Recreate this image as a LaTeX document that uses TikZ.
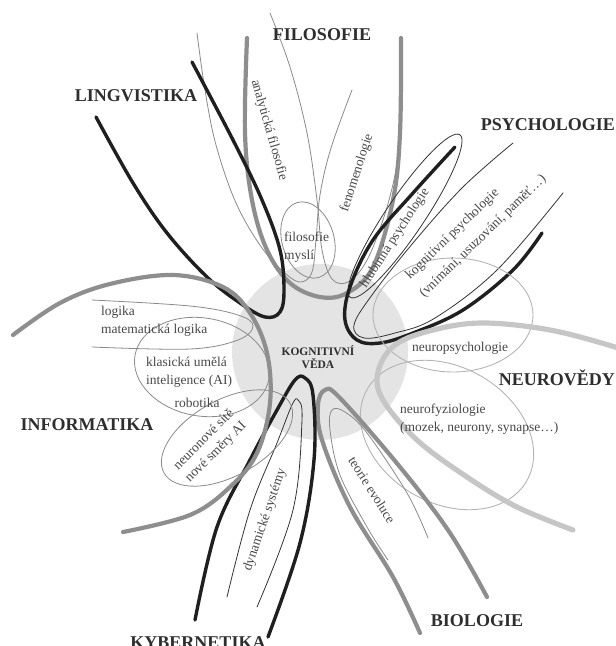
\documentclass[tikz,border=0pt]{standalone}
\usepackage{fontspec}
\setmainfont{Liberation Serif}
\definecolor{ink}{HTML}{2E2E2E}
\definecolor{subink}{HTML}{474747}
\definecolor{midgray}{HTML}{8E8E8E}
\definecolor{lightgray}{HTML}{C6C6C6}
\definecolor{thingray}{HTML}{8A8A8A}
\definecolor{thinlight}{HTML}{B4B4B4}
\definecolor{discfill}{HTML}{E4E4E4}
\tikzset{
  thickblack/.style={draw=black!88, line width=3.4pt, line cap=round},
  thickgray/.style={draw=midgray, line width=4.2pt, line cap=round},
  thicklight/.style={draw=lightgray, line width=5.2pt, line cap=round},
  thinblack/.style={draw=black!80, line width=0.8pt, line cap=round},
  thingrayline/.style={draw=thingray, line width=0.8pt, line cap=round},
  thinlightline/.style={draw=thinlight, line width=0.9pt, line cap=round},
  bigfield/.style={font=\fontsize{18}{20}\selectfont\bfseries, text=ink, inner sep=0pt},
  sublabel/.style={font=\fontsize{13.5}{17}\selectfont, text=subink, inner sep=0pt},
  centerlabel/.style={font=\fontsize{11.5}{13.5}\selectfont\bfseries, text=ink, inner sep=0pt, align=center},
  smoothline/.style={smooth, tension=0.6}
}
\begin{document}
\begin{tikzpicture}[x=1pt,y=-1pt]
\useasboundingbox (0,0) rectangle (616,646);
\clip (0,0) rectangle (616,646);

% central disc
\fill[discfill] (320,352) circle [radius=88];

% ---------- FILOSOFIE ----------
\draw[thickgray] plot[smoothline] coordinates {(247,38) (245,133) (252,200) (267,250) (290,283) (320,297) (347,293) (373,267) (393,200) (400,133) (401,38)};
\draw[thingrayline] plot[smoothline] coordinates {(197,33) (205,90) (216,145) (236,203) (262,248) (286,274) (301,282) (312,272) (316,240) (320,195) (331,148) (352,90)};
\draw[thingrayline] plot[smoothline] coordinates {(270,13) (290,67) (307,133) (317,200) (322,250) (332,279) (348,282) (366,262) (383,220) (395,175) (399,140)};
\draw[thingrayline, rotate around={16:(308,240)}] (308,240) ellipse [x radius=26, y radius=39];

% ---------- LINGVISTIKA ----------
\draw[thickblack] plot[smoothline] coordinates {(96,117) (133,183) (167,233) (207,277) (240,303) (265,317) (280,312) (284,290) (280,250) (262,200) (233,140) (192,62)};

% ---------- PSYCHOLOGIE ----------
\draw[thinblack, rotate around={56:(405,216)}] (405,216) ellipse [x radius=98, y radius=19];
\draw[thinblack] plot[smoothline] coordinates {(513,143) (463,187) (413,243) (372,295) (354,325) (364,338) (395,333) (435,318) (497,270) (563,193)};
\draw[thickblack] plot[smoothline] coordinates {(455,147) (413,193) (373,240) (350,287) (345,320) (357,340) (380,343) (413,333) (463,310) (513,270) (542,233)};

% ---------- NEUROVEDY ----------
\draw[thinlightline] (453,315) ellipse [x radius=80, y radius=57];
\draw[thinlightline, rotate around={-30:(447,435)}] (447,435) ellipse [x radius=92, y radius=68];
\draw[thicklight] plot[smoothline] coordinates {(630,354) (615,347) (550,330) (483,323) (433,330) (395,345) (378,372) (383,400) (417,440) (467,477) (517,507) (573,530)};

% ---------- BIOLOGIE ----------
\draw[thickgray] plot[smoothline] coordinates {(420,633) (393,577) (350,507) (322,440) (318,405) (325,390) (340,398) (400,467) (450,533) (487,597)};
\draw[thingrayline] plot[smoothline] coordinates {(388,560) (367,527) (340,475) (330,430) (332,410) (345,412) (367,433) (407,493) (428,538)};

% ---------- KYBERNETIKA ----------
\draw[thickblack] plot[smoothline] coordinates {(195,620) (217,527) (250,460) (277,410) (295,380) (305,378) (313,395) (314,460) (300,543) (268,637)};
\draw[thinblack] plot[smoothline] coordinates {(227,597) (250,510) (277,443) (292,405) (298,400) (302,420) (293,510) (257,607)};

% ---------- INFORMATIKA ----------
\draw[thingrayline] plot[smoothline] coordinates {(92,300) (190,306) (238,315) (253,326) (238,340) (190,349) (92,347)};
\draw[thingrayline, rotate around={-10:(202,367)}] (202,367) ellipse [x radius=68, y radius=49];
\draw[thingrayline, rotate around={29:(227,438)}] (227,438) ellipse [x radius=72, y radius=38];
\draw[thickgray] plot[smoothline] coordinates {(13,335) (60,303) (110,284) (173,275) (223,287) (250,313) (267,353) (270,403) (257,453) (230,487) (190,515) (123,532)};

% ---------- labels ----------
\node[centerlabel] (kog) at (318,357) {KOGNITIVNÍ\\VĚDA};

\node[bigfield] (filo) at (322,35) {FILOSOFIE};
\node[bigfield] (ling) at (136,96) {LINGVISTIKA};
\node[bigfield, anchor=east] (psych) at (615,125) {PSYCHOLOGIE};
\node[bigfield, anchor=east] (neuro) at (615,378) {NEUROVĚDY};
\node[bigfield] (info) at (87,425) {INFORMATIKA};
\node[bigfield, anchor=base] (kyb) at (198,648) {KYBERNETIKA};
\node[bigfield] (bio) at (477,621) {BIOLOGIE};

\node[sublabel, rotate=-74] (anal) at (269,130) {analytická filosofie};
\node[sublabel, rotate=72] (fenom) at (357,173) {fenomenologie};
\node[sublabel, align=left, anchor=west, font=\fontsize{13.5}{18}\selectfont] (mysl) at (284,247) {filosofie\\myslí};
\node[sublabel, rotate=57] (hlub) at (395,238) {hlubinná psychologie};
\node[sublabel, rotate=44, anchor=base west] (kogps) at (410,280) {kognitivní psychologie};
\node[sublabel, rotate=44, anchor=base west] (vnim) at (424,298) {(vnímání, usuzování, paměť…)};
\node[sublabel] (neurops) at (460,348) {neuropsychologie};
\node[sublabel, align=left, anchor=west, font=\fontsize{13.5}{18}\selectfont] (neurof) at (400,419) {neurofyziologie\\(mozek, neurony, synapse…)};
\node[sublabel, rotate=-58] (evol) at (372,490) {teorie evoluce};
\node[sublabel, rotate=71] (dyn) at (265,520) {dynamické systémy};
\node[sublabel, rotate=45, align=center, font=\fontsize{13.5}{17}\selectfont] (nns) at (210,446) {neuronové sítě\\nové směry AI};
\node[sublabel] (robot) at (197,403) {robotika};
\node[sublabel, align=left, anchor=west, font=\fontsize{13.5}{18}\selectfont] (logika) at (101,321) {logika\\matematická logika};
\node[sublabel, align=left, anchor=west, font=\fontsize{13.5}{18}\selectfont] (klas) at (146,372) {klasická umělá\\inteligence (AI)};
\end{tikzpicture}
\end{document}
